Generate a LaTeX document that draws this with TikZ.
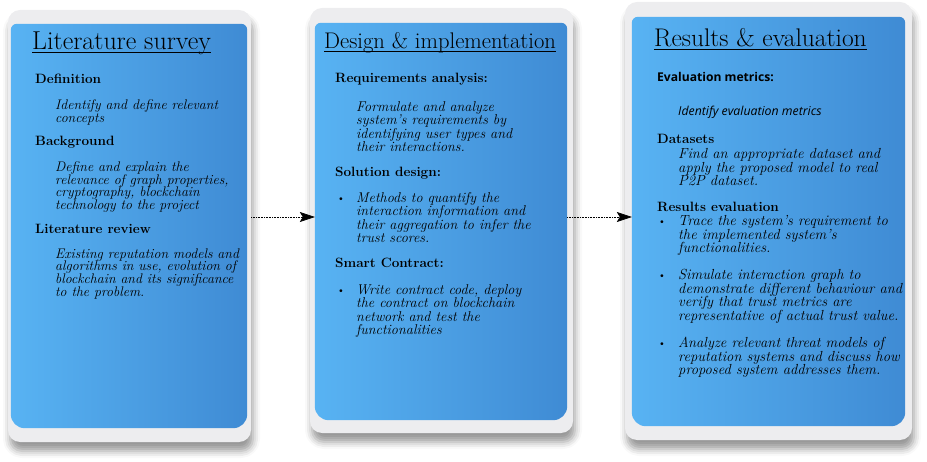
\documentclass[tikz,border=0pt]{standalone}
\usepackage{fontspec}
\newfontfamily\opensans{Open Sans}
\usetikzlibrary{arrows.meta,shadows.blur}

\definecolor{bluelight}{HTML}{58B3F3}
\definecolor{bluedark}{HTML}{3F8BD4}
\definecolor{framegrey}{HTML}{EDEDEF}
\setlength{\lineskiplimit}{-6pt}

\begin{document}
\begin{tikzpicture}[x=1pt, y=-1pt, >={Stealth[length=15pt,width=10pt,inset=3pt]},
    panelframe/.style={draw=none, fill=framegrey, rounded corners=12pt, inner sep=0pt,
        blur shadow={shadow xshift=2pt, shadow yshift=-9pt, shadow blur radius=7pt, shadow opacity=40}},
    panelbox/.style={draw=none, inner sep=0pt},
    paneltitle/.style={anchor=base west, inner sep=0pt, font=\fontsize{#1}{30}\selectfont},
    head/.style={anchor=base west, inner sep=0pt, font=\fontsize{13.5}{15}\selectfont\bfseries},
    body/.style 2 args={anchor=north west, yshift=9.8pt, inner sep=0pt, align=left,
        font=\fontsize{#1}{#2}\selectfont\itshape},
    bul/.style={anchor=base west, inner sep=0pt, font=\fontsize{10}{13}\selectfont},
    flow/.style={densely dotted, semithick, ->}]
    \useasboundingbox (0,0) rectangle (927,462);

    % frames and blue panels
    \foreach \p/\xa/\ya/\xb/\yb/\xc/\yc/\xd/\yd in {
        ls/8/10/251/442/11/24/247/428,
        di/310/8/573/433/315/23/567/420,
        re/625/2/912/440/632/17/905/426
    } {
        \node[panelframe, minimum width=\xb pt-\xa pt, minimum height=\yb pt-\ya pt]
            (fr\p) at ({(\xa+\xb)/2},{(\ya+\yb)/2}) {};
        \node[panelbox, minimum width=\xd pt-\xc pt, minimum height=\yd pt-\yc pt]
            (bx\p) at ({(\xc+\xd)/2},{(\yc+\yd)/2}) {};
        \shade[left color=bluelight, right color=bluedark]
            (bx\p.west) [rounded corners=6pt] -- (bx\p.north west) -- (bx\p.north east) -- (bx\p.east)
            [rounded corners=14pt] -- (bx\p.south east) -- (bx\p.south west) -- cycle;
    }

    % Literature survey
    \node[paneltitle=25.9] (tls) at (32,50) {Literature survey};
    \node[head] (lsdef) at (35,84) {Definition};
    \node[body={13.9}{12.9}] (lsdeft) at (55,109) {Identify and define relevant\\concepts};
    \node[head] (lsbg) at (35,146) {Background};
    \node[body={13.9}{12.9}] (lsbgt) at (55,171) {Define and explain the\\relevance of graph properties,\\cryptography, blockchain\\technology to the project};
    \node[head] (lsrev) at (35,234) {Literature review};
    \node[body={13.9}{12.9}] (lsrevt) at (55,258) {Existing reputation models and\\algorithms in use, evolution of\\blockchain and its significance\\to the problem.};

    % Design & implementation
    \node[paneltitle=22.6] (tdi) at (324,49) {Design \& implementation};
    \node[head] (direq) at (335,83) {Requirements analysis:};
    \node[body={14.2}{13.4}] (direqt) at (356,111) {Formulate and analyze\\system's requirements by\\identifying user types and\\their interactions.};
    \node[head] (disol) at (335,177) {Solution design:};
    \node[bul] (disolb) at (337,202) {\textbullet};
    \node[body={14.2}{13.4}] (disolt) at (356,202) {Methods to quantify the\\interaction information and\\their aggregation to infer the\\trust scores.};
    \node[head] (disc) at (335,268) {Smart Contract:};
    \node[bul] (discb) at (337,294) {\textbullet};
    \node[body={14.2}{13.4}] (disct) at (356,294) {Write contract code, deploy\\the contract on blockchain\\network and test the\\functionalities};

    % Results & evaluation
    \node[paneltitle=25.5] (tre) at (654,47) {Results \& evaluation};
    \node[head, font=\opensans\fontsize{12.1}{14}\selectfont\bfseries] (remet) at (657,82) {Evaluation metrics:};
    \node[anchor=base west, inner sep=0pt, font=\opensans\fontsize{12.3}{14}\selectfont\itshape] (remett) at (678,116) {Identify evaluation metrics};
    \node[head] (reds) at (657,144) {Datasets};
    \node[body={14.6}{13.5}] (redst) at (678,158) {Find an appropriate dataset and\\apply the proposed model to real\\P2P dataset.};
    \node[head] (reev) at (657,212) {Results evaluation};
    \node[bul] (reba) at (658,225) {\textbullet};
    \node[body={14.6}{13.5}] (reta) at (678,225) {Trace the system's requirement to\\the implemented system's\\functionalities.};
    \node[bul] (rebb) at (658,279) {\textbullet};
    \node[body={14.6}{13.5}] (retb) at (678,279) {Simulate interaction graph to\\demonstrate different behaviour and\\verify that trust metrics are\\representative of actual trust value.};
    \node[bul] (rebc) at (658,347) {\textbullet};
    \node[body={14.6}{13.5}] (retc) at (678,347) {Analyze relevant threat models of\\reputation systems and discuss how\\proposed system addresses them.};

    % underlines of the titles
    \foreach \t in {tls,tdi,tre}
        \draw[line width=1.1pt] ([yshift=-2.6pt]\t.base west) -- ([yshift=-2.6pt]\t.base east);

    % flow between the panels
    \coordinate (ay) at (0,217);
    \draw[flow] (frls.east |- ay) -- (bxdi.west |- ay);
    \draw[flow] (bxdi.east |- ay) -- (bxre.west |- ay);
\end{tikzpicture}
\end{document}
